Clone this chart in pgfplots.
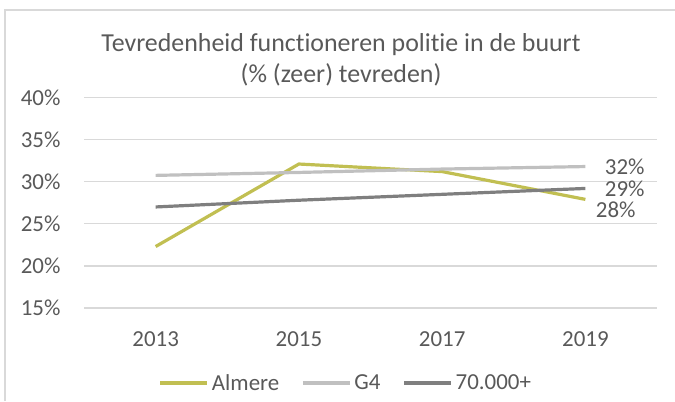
\documentclass[border=0pt]{standalone}
\usepackage{pgfplots}
\pgfplotsset{compat=1.18}
\usepackage{fontspec}
\setmainfont{Carlito}[Ligatures={NoCommon}]
\definecolor{almere}{RGB}{193,191,82}
\definecolor{gfour}{RGB}{192,192,192}
\definecolor{seventy}{RGB}{127,127,127}
\definecolor{gridc}{RGB}{217,217,217}
\definecolor{txt}{RGB}{89,89,89}
\begin{document}
\begin{tikzpicture}[x=1bp,y=1bp]
\useasboundingbox (0,0) rectangle (675,401);
\draw[gridc, line width=1.2bp] (5,0) -- (5,391) -- (676,391);
\node[txt, font=\fontsize{26}{30}\selectfont, align=center] at (341,356) {Tevredenheid functioneren politie in de buurt};
\node[txt, font=\fontsize{26}{30}\selectfont, align=center] at (341,326) {(\% (zeer) tevreden)};
\begin{axis}[
  at={(84bp,93bp)}, anchor=south west,
  scale only axis, width=573bp, height=210.5bp,
  xmin=-0.5, xmax=3.5, ymin=15, ymax=40,
  xtick={0,1,2,3}, xticklabels={2013,2015,2017,2019},
  ytick={15,20,25,30,35,40},
  yticklabel={\pgfmathprintnumber{\tick}\%},
  /pgf/number format/assume math mode=true,
  ymajorgrids, grid style={gridc, line width=1.3bp},
  axis line style={draw=none},
  major tick length=0pt,
  tick label style={txt, font=\fontsize{23}{26}\selectfont},
  yticklabel style={xshift=-20bp},
  xticklabel style={yshift=-20bp},
  clip=false,
  legend style={draw=none, at={(0.457,-0.356)}, anchor=center, legend columns=3,
    font=\fontsize{23}{26}\selectfont, text=txt, inner sep=0pt,
    /tikz/every odd column/.append style={column sep=1bp},
    /tikz/every even column/.append style={column sep=20bp}},
  legend image code/.code={\draw[#1, line width=3.2bp] (0bp,0bp) -- (47bp,0bp);},
]
\addplot[almere, line width=3.2bp] coordinates {(0,22.3) (1,32.1) (2,31.2) (3,27.9)};
\addlegendentry{Almere}
\addplot[gfour, line width=3.2bp] coordinates {(0,30.75) (1,31.1) (2,31.5) (3,31.8)};
\addlegendentry{G4}
\addplot[seventy, line width=3.2bp] coordinates {(0,27.0) (1,27.8) (2,28.5) (3,29.2)};
\addlegendentry{70.000+}
\node[txt, anchor=west, font=\fontsize{23}{26}\selectfont] at (axis cs:3,31.8) [xshift=16bp] {32\%};
\node[txt, anchor=west, font=\fontsize{23}{26}\selectfont] at (axis cs:3,29.2) [xshift=16bp] {29\%};
\node[txt, anchor=west, font=\fontsize{23}{26}\selectfont] at (axis cs:3,27.9) [xshift=7bp, yshift=-10bp] {28\%};
\end{axis}
\end{tikzpicture}
\end{document}
